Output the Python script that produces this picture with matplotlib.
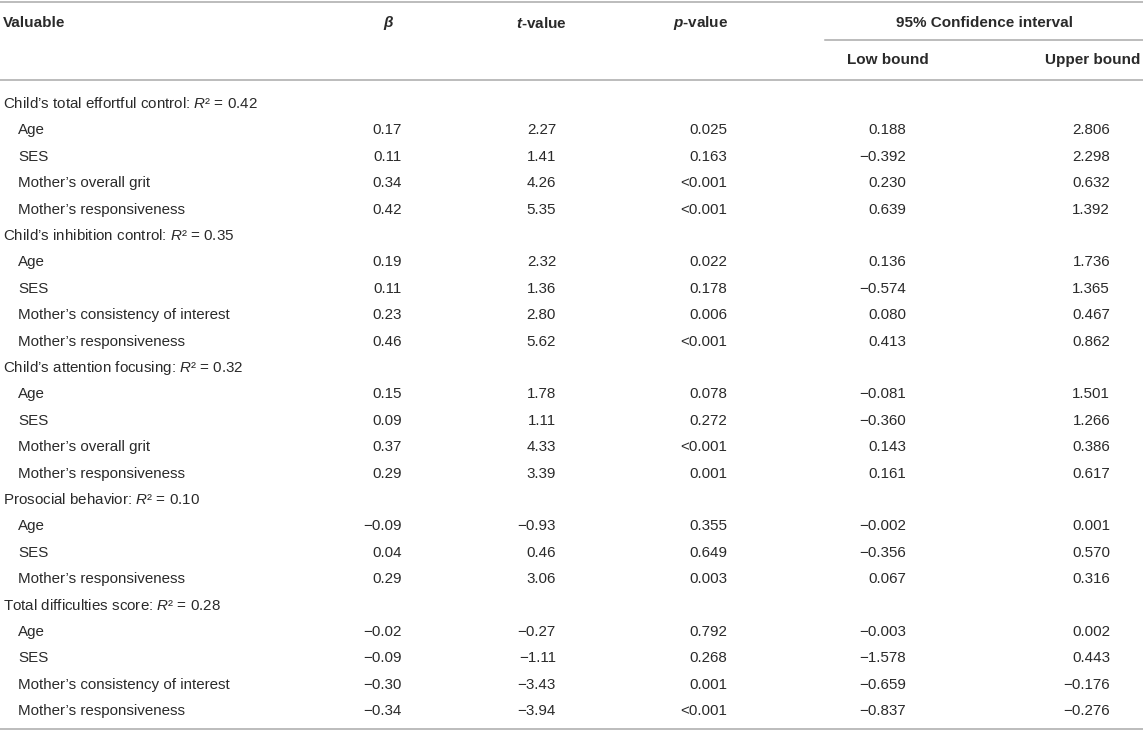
import matplotlib
matplotlib.use("Agg")
import matplotlib.pyplot as plt

plt.rcParams['font.family'] = ['Liberation Sans', 'DejaVu Sans']
plt.rcParams['mathtext.fontset'] = 'custom'
plt.rcParams['mathtext.rm'] = 'Liberation Sans'
plt.rcParams['mathtext.it'] = 'Liberation Sans:italic'
plt.rcParams['mathtext.bf'] = 'Liberation Sans:bold'
plt.rcParams['mathtext.bfit'] = 'Liberation Sans:italic:bold'

# table data
groups = ["Child’s total effortful control", "Child’s inhibition control",
          "Child’s attention focusing", "Prosocial behavior",
          "Total difficulties score"]
r_squared = ["0.42", "0.35", "0.32", "0.10", "0.28"]
predictors = [
    ["Age", "SES", "Mother’s overall grit", "Mother’s responsiveness"],
    ["Age", "SES", "Mother’s consistency of interest", "Mother’s responsiveness"],
    ["Age", "SES", "Mother’s overall grit", "Mother’s responsiveness"],
    ["Age", "SES", "Mother’s responsiveness"],
    ["Age", "SES", "Mother’s consistency of interest", "Mother’s responsiveness"],
]
beta = [
    ["0.17", "0.11", "0.34", "0.42"],
    ["0.19", "0.11", "0.23", "0.46"],
    ["0.15", "0.09", "0.37", "0.29"],
    ["−0.09", "0.04", "0.29"],
    ["−0.02", "−0.09", "−0.30", "−0.34"],
]
t_values = [
    ["2.27", "1.41", "4.26", "5.35"],
    ["2.32", "1.36", "2.80", "5.62"],
    ["1.78", "1.11", "4.33", "3.39"],
    ["−0.93", "0.46", "3.06"],
    ["−0.27", "−1.11", "−3.43", "−3.94"],
]
p_values = [
    ["0.025", "0.163", "<0.001", "<0.001"],
    ["0.022", "0.178", "0.006", "<0.001"],
    ["0.078", "0.272", "<0.001", "0.001"],
    ["0.355", "0.649", "0.003"],
    ["0.792", "0.268", "0.001", "<0.001"],
]
low_bound = [
    ["0.188", "−0.392", "0.230", "0.639"],
    ["0.136", "−0.574", "0.080", "0.413"],
    ["−0.081", "−0.360", "0.143", "0.161"],
    ["−0.002", "−0.356", "0.067"],
    ["−0.003", "−1.578", "−0.659", "−0.837"],
]
upper_bound = [
    ["2.806", "2.298", "0.632", "1.392"],
    ["1.736", "1.365", "0.467", "0.862"],
    ["1.501", "1.266", "0.386", "0.617"],
    ["0.001", "0.570", "0.316"],
    ["0.002", "0.443", "−0.176", "−0.276"],
]

W, H = 1143, 734
fig = plt.figure(figsize=(W / 100, H / 100), dpi=100)
ax = fig.add_axes([0, 0, 1, 1])
ax.set_xlim(0, W)
ax.set_ylim(H, 0)
ax.axis('off')

txt = '#2a2a2a'
line_c = '#aaaaaa'
fs = 10.9
hfs = 11.0
lw = 1.1

# rules
ax.plot([0, W], [2, 2], color=line_c, lw=lw)
ax.plot([825, W], [40, 40], color=line_c, lw=lw)
ax.plot([0, W], [80, 80], color=line_c, lw=lw)
ax.plot([0, W], [729, 729], color=line_c, lw=lw)

# header
ax.text(3, 23, "Valuable", fontsize=hfs, fontweight='bold', color=txt, va='center')
ax.text(388, 23, "β", fontsize=hfs, fontweight='bold', fontstyle='italic',
        color=txt, va='center', ha='center')
ax.text(541, 23, r"$\mathbfit{t}$-value", fontsize=hfs, fontweight='bold',
        color=txt, va='center', ha='center')
ax.text(701, 23, r"$\mathbfit{p}$-value", fontsize=hfs, fontweight='bold',
        color=txt, va='center', ha='center')
ax.text(985, 23, "95% Confidence interval", fontsize=hfs, fontweight='bold',
        color=txt, va='center', ha='center')
ax.text(888, 60, "Low bound", fontsize=hfs, fontweight='bold', color=txt,
        va='center', ha='center')
ax.text(1140, 60, "Upper bound", fontsize=hfs, fontweight='bold', color=txt,
        va='center', ha='right')

col_right = [402, 556, 727, 906, 1110]
y0, dy = 104, 26.4
row = 0
for g in range(len(groups)):
    y = y0 + dy * row
    ax.text(3, y, groups[g] + ": $R$² = " + r_squared[g], fontsize=fs,
            color=txt, va='center')
    row += 1
    for k in range(len(predictors[g])):
        y = y0 + dy * row
        ax.text(18, y, predictors[g][k], fontsize=fs, color=txt, va='center')
        vals = [beta[g][k], t_values[g][k], p_values[g][k],
                low_bound[g][k], upper_bound[g][k]]
        for xr, v in zip(col_right, vals):
            ax.text(xr, y, v, fontsize=fs, color=txt, va='center', ha='right')
        row += 1

fig.savefig("out.png", dpi=100)
